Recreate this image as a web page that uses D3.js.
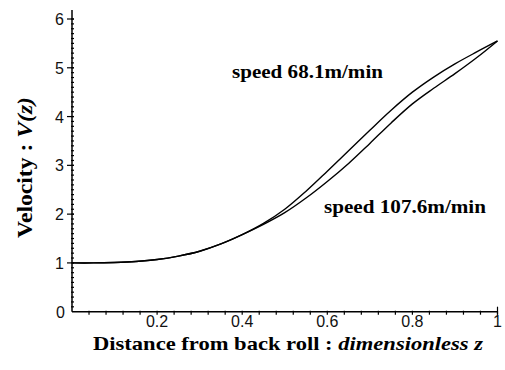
<!DOCTYPE html>
<html>
<head>
<meta charset="utf-8">
<script src="https://cdn.jsdelivr.net/npm/d3@7"></script>
<style>
  body { margin: 0; background: #fff; }
  svg { display: block; }
  .tick-label { font-family: "Liberation Sans", Arial, sans-serif; font-size: 16px; fill: #111; }
  .title { font-family: "Liberation Serif", "Times New Roman", serif; font-weight: bold; fill: #000; }
</style>
</head>
<body>
<svg id="chart" width="505" height="370"></svg>
<script>
// Data
const zValues = [0, 0.05, 0.1, 0.15, 0.2, 0.25, 0.3, 0.35, 0.4, 0.45, 0.5, 0.55, 0.6, 0.65, 0.7, 0.75, 0.8, 0.85, 0.9, 0.95, 1];
const velocity68 = [1.0, 1.0, 1.01, 1.03, 1.07, 1.14, 1.24, 1.39, 1.58, 1.81, 2.1, 2.47, 2.88, 3.3, 3.72, 4.13, 4.5, 4.81, 5.08, 5.32, 5.55];
const velocity107 = [1.0, 1.0, 1.01, 1.03, 1.07, 1.14, 1.24, 1.39, 1.58, 1.79, 2.03, 2.33, 2.67, 3.04, 3.45, 3.87, 4.26, 4.58, 4.88, 5.2, 5.55];
const xTickValues = [0.2, 0.4, 0.6, 0.8, 1];
const yTickValues = [0, 1, 2, 3, 4, 5, 6];
const seriesLabels = ["speed 68.1m/min", "speed 107.6m/min"];

const svg = d3.select("#chart");

// Scales
const xScale = d3.scaleLinear().domain([0, 1]).range([72, 497.5]);
const yScale = d3.scaleLinear().domain([0, 6]).range([311.7, 19]);

// Axes
const xAxisG = svg.append("g").attr("transform", "translate(0," + yScale(0) + ")");
xAxisG.append("line")
  .attr("x1", xScale(0)).attr("x2", xScale(1))
  .attr("stroke", "#000").attr("stroke-width", 1.5);
xAxisG.selectAll(".minor")
  .data(d3.range(1, 26).map((i) => i * 0.04))
  .enter().append("line")
  .attr("x1", (d) => xScale(d)).attr("x2", (d) => xScale(d))
  .attr("y1", -1).attr("y2", 3)
  .attr("stroke", "#000").attr("stroke-width", 1.2);
xAxisG.append("line")
  .attr("x1", xScale(1)).attr("x2", xScale(1))
  .attr("y1", -5).attr("y2", 3)
  .attr("stroke", "#000").attr("stroke-width", 1.2);
xAxisG.selectAll(".xlab")
  .data(xTickValues)
  .enter().append("text")
  .attr("class", "tick-label")
  .attr("x", (d) => xScale(d)).attr("y", 15)
  .attr("text-anchor", "middle")
  .text((d) => d3.format("~g")(d));

const yAxisG = svg.append("g").attr("transform", "translate(" + xScale(0) + ",0)");
yAxisG.append("line")
  .attr("y1", yScale(0)).attr("y2", 10)
  .attr("stroke", "#000").attr("stroke-width", 1.5);
yAxisG.selectAll(".minor")
  .data(d3.range(1, 61).map((i) => i * 0.1))
  .enter().append("line")
  .attr("x1", -1).attr("x2", 2)
  .attr("y1", (d) => yScale(d)).attr("y2", (d) => yScale(d))
  .attr("stroke", "#000").attr("stroke-width", 1.2);
yAxisG.selectAll(".major")
  .data(yTickValues.slice(1))
  .enter().append("line")
  .attr("x1", -5).attr("x2", 2)
  .attr("y1", (d) => yScale(d)).attr("y2", (d) => yScale(d))
  .attr("stroke", "#000").attr("stroke-width", 1.2);
yAxisG.selectAll(".ylab")
  .data(yTickValues)
  .enter().append("text")
  .attr("class", "tick-label")
  .attr("x", (d) => (d === 0 ? -7 : -8)).attr("y", (d) => yScale(d) + 6)
  .attr("text-anchor", "end")
  .text((d) => d);

// Curves
const line = d3.line()
  .x((d) => xScale(d[0]))
  .y((d) => yScale(d[1]))
  .curve(d3.curveCatmullRom);

[velocity68, velocity107].forEach((vals) => {
  svg.append("path")
    .datum(zValues.map((z, i) => [z, vals[i]]))
    .attr("d", line)
    .attr("fill", "none")
    .attr("stroke", "#000")
    .attr("stroke-width", 1.4);
});

// Series labels
svg.append("text").attr("class", "title")
  .attr("x", 232).attr("y", 78)
  .style("font-size", "19px")
  .attr("textLength", 151).attr("lengthAdjust", "spacingAndGlyphs")
  .text(seriesLabels[0]);
svg.append("text").attr("class", "title")
  .attr("x", 324).attr("y", 213)
  .style("font-size", "19px")
  .attr("textLength", 162).attr("lengthAdjust", "spacingAndGlyphs")
  .text(seriesLabels[1]);

// Axis titles
const xTitle = svg.append("text").attr("class", "title")
  .attr("x", 93).attr("y", 350)
  .style("font-size", "19px")
  .attr("textLength", 390).attr("lengthAdjust", "spacingAndGlyphs");
xTitle.append("tspan").text("Distance from back roll : ");
xTitle.append("tspan").style("font-style", "italic").text("dimensionless z");

const yTitle = svg.append("text").attr("class", "title")
  .attr("transform", "translate(32,238) rotate(-90)")
  .attr("x", 0).attr("y", 0)
  .style("font-size", "20px")
  .attr("textLength", 141).attr("lengthAdjust", "spacingAndGlyphs");
yTitle.append("tspan").text("Velocity : ");
yTitle.append("tspan").style("font-style", "italic").text("V(z)");
</script>
</body>
</html>
